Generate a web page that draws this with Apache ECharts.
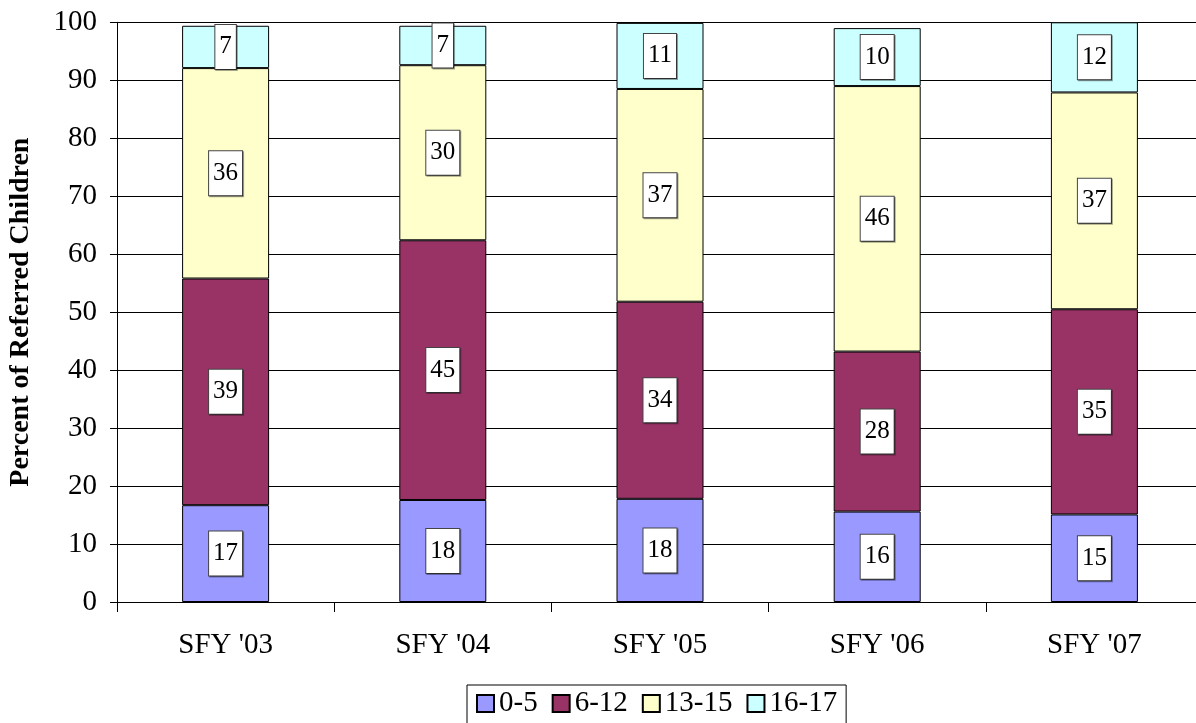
<!DOCTYPE html>
<html>
<head>
<meta charset="utf-8">
<script src="https://cdn.jsdelivr.net/npm/echarts@6/dist/echarts.min.js"></script>
<style>
  html, body { margin: 0; padding: 0; background: #fff; }
  #main { width: 1196px; height: 723px; }
</style>
</head>
<body>
<div id="main"></div>
<script>
// fiscal years
const years = ["SFY '03", "SFY '04", "SFY '05", "SFY '06", "SFY '07"];
// percent of referred children by age group
const age0to5 = [16.7, 17.6, 17.8, 15.6, 15.1];
const age6to12 = [39.1, 44.8, 34.0, 27.6, 35.4];
const age13to15 = [36.3, 30.2, 36.7, 45.8, 37.4];
const age16to17 = [7.3, 6.8, 11.4, 10.0, 12.1];
const yTicks = [0, 100, 10]; // min, max, interval

const serif = 'Liberation Serif';

function makeSeries(name, data, color) {
  return {
    name: name,
    type: 'bar',
    stack: 'total',
    barWidth: 87,
    data: data,
    itemStyle: { color: color, borderColor: '#000', borderWidth: 1 },
    label: {
      show: true,
      position: 'inside',
      formatter: p => Math.round(p.value),
      fontFamily: serif,
      fontSize: 25,
      lineHeight: 26,
      color: '#000',
      backgroundColor: '#fff',
      borderColor: '#444',
      borderWidth: 1,
      padding: [9, 4],
      shadowColor: 'rgba(0,0,0,0.35)',
      shadowOffsetX: 1,
      shadowOffsetY: 1
    },
    emphasis: { disabled: true }
  };
}

const option = {
  animation: false,
  grid: { left: 117, right: -7, top: 22.3, bottom: 121, outerBoundsMode: 'none' },
  legend: {
    data: ['0-5', '6-12', '13-15', '16-17'],
    left: 467,
    top: 685,
    icon: 'rect',
    itemWidth: 17,
    itemHeight: 17,
    itemGap: 14,
    padding: [4, 9, 10, 9],
    borderColor: '#000',
    borderWidth: 1,
    textStyle: { fontFamily: serif, fontSize: 29, color: '#000' }
  },
  xAxis: {
    type: 'category',
    data: years,
    axisLine: { lineStyle: { color: '#000', width: 1 } },
    axisTick: { show: true, length: 10, lineStyle: { color: '#000' } },
    axisLabel: { fontFamily: serif, fontSize: 29, color: '#000', margin: 29 }
  },
  yAxis: {
    type: 'value',
    min: yTicks[0],
    max: yTicks[1],
    interval: yTicks[2],
    name: 'Percent of Referred Children',
    nameLocation: 'middle',
    nameGap: 82,
    nameTextStyle: { fontFamily: serif, fontSize: 28, fontWeight: 'bold', color: '#000' },
    axisLine: { show: true, lineStyle: { color: '#000', width: 1 } },
    axisTick: { show: true, length: 7, lineStyle: { color: '#000' } },
    axisLabel: { fontFamily: serif, fontSize: 29, color: '#000', margin: 20 },
    splitLine: { lineStyle: { color: '#000', width: 1 } }
  },
  series: [
    makeSeries('0-5', age0to5, '#9999FF'),
    makeSeries('6-12', age6to12, '#993366'),
    makeSeries('13-15', age13to15, '#FFFFCC'),
    makeSeries('16-17', age16to17, '#CCFFFF')
  ]
};

const myChart = echarts.init(document.getElementById('main'));
myChart.setOption(option);
</script>
</body>
</html>
